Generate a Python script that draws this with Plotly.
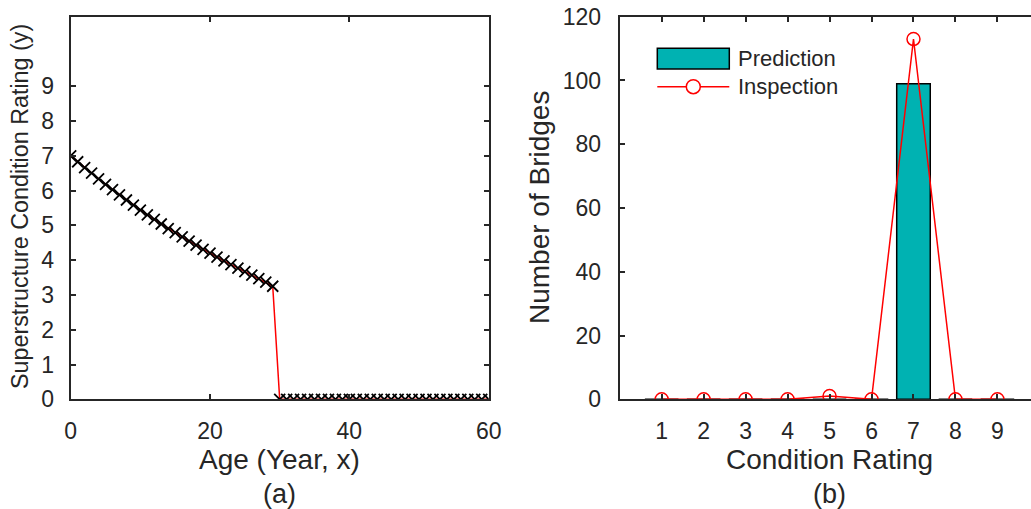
import plotly.graph_objects as go

# left panel: predicted condition rating vs age
age = list(range(0, 61))
rating = [7.00, 6.83, 6.66, 6.50, 6.34, 6.18, 6.03, 5.88, 5.73, 5.58,
          5.44, 5.30, 5.17, 5.04, 4.91, 4.79, 4.67, 4.55, 4.43, 4.31,
          4.20, 4.09, 3.98, 3.87, 3.77, 3.67, 3.57, 3.47, 3.37, 3.25] + [0] * 31

# right panel: bridge counts per condition rating
cond = [1, 2, 3, 4, 5, 6, 7, 8, 9]
prediction = [0, 0, 0, 0, 0, 0, 99, 0, 0]
inspection = [0, 0, 0, 0, 1, 0, 113, 0, 0]

W, H = 1031, 509
TXT = "#262626"
TEAL = "#00B2B2"
FONT = "Liberation Sans, Arial, sans-serif"


def px(x):
    return x / W


def py(y):
    return 1 - y / H


fig = go.Figure()

fig.add_trace(go.Scatter(x=age, y=rating, mode="lines",
                         line=dict(color="red", width=1.5),
                         showlegend=False, xaxis="x", yaxis="y"))
fig.add_trace(go.Scatter(x=age, y=rating, mode="markers",
                         marker=dict(symbol="x-thin", size=11,
                                     line=dict(color="black", width=1.8)),
                         showlegend=False, xaxis="x", yaxis="y"))

fig.add_trace(go.Bar(x=cond, y=prediction, width=0.8,
                     marker=dict(color=TEAL, line=dict(color="black", width=1.5)),
                     showlegend=False, xaxis="x2", yaxis="y2"))
fig.add_trace(go.Scatter(x=cond, y=inspection, mode="lines+markers",
                         line=dict(color="red", width=1.5),
                         marker=dict(symbol="circle-open", size=13,
                                     line=dict(color="red", width=1.5)),
                         showlegend=False, xaxis="x2", yaxis="y2"))

ax = dict(showline=True, linecolor=TXT, linewidth=2, ticks="inside",
          ticklen=5, tickwidth=1.5, tickcolor=TXT, showgrid=False,
          zeroline=False, automargin=False,
          tickfont=dict(size=23, color=TXT, family=FONT))

fig.update_layout(
    width=W, height=H,
    margin=dict(l=0, r=0, t=0, b=0, autoexpand=False),
    plot_bgcolor="white", paper_bgcolor="white",
    font=dict(family=FONT, color=TXT),
    xaxis=dict(ax, domain=[px(70.7), px(488.7)], range=[0, 60],
               tickvals=[0, 20, 40, 60], mirror="allticks",
               ticklabelstandoff=10, anchor="y"),
    yaxis=dict(ax, domain=[py(399.3), py(16.7)], range=[0, 11],
               tickvals=list(range(10)), mirror="allticks",
               ticklabelstandoff=10, anchor="x"),
    xaxis2=dict(ax, domain=[px(619.7), 1.0], range=[0, 9.8],
                tickvals=cond, mirror="allticks",
                ticklabelstandoff=10, anchor="y2"),
    yaxis2=dict(ax, domain=[py(399.3), py(16.7)], range=[0, 120],
                tickvals=[0, 20, 40, 60, 80, 100, 120], mirror=False,
                ticklabelstandoff=12, anchor="x2"),
)

# axis titles and panel labels
notes = [
    ("Superstructure Condition Rating (y)", 20, 207, 23.3, -90),
    ("Age (Year, x)", 279.7, 459, 28, 0),
    ("(a)", 279.7, 494, 27, 0),
    ("Number of Bridges", 539, 208, 28, -90),
    ("Condition Rating", 829, 459, 28, 0),
    ("(b)", 829, 494, 27, 0),
]
for text, x, y, size, ang in notes:
    fig.add_annotation(text=text, x=px(x), y=py(y), xref="paper", yref="paper",
                       showarrow=False, textangle=ang,
                       xanchor="center", yanchor="middle",
                       font=dict(size=size, color=TXT, family=FONT))

# hand-drawn legend in the right panel
fig.add_shape(type="rect", xref="paper", yref="paper",
              x0=px(657.3), x1=px(729.3), y0=py(69), y1=py(48.3),
              fillcolor=TEAL, line=dict(color="black", width=1.5))
fig.add_shape(type="line", xref="paper", yref="paper",
              x0=px(657.3), x1=px(729.3), y0=py(86.7), y1=py(86.7),
              line=dict(color="red", width=1.5))
fig.add_shape(type="circle", xref="paper", yref="paper",
              x0=px(693.3 - 7), x1=px(693.3 + 7), y0=py(86.7 + 7), y1=py(86.7 - 7),
              fillcolor="white", line=dict(color="red", width=1.5))
for text, y in [("Prediction", 58.3), ("Inspection", 86.7)]:
    fig.add_annotation(text=text, x=px(736), y=py(y), xref="paper", yref="paper",
                       showarrow=False, xanchor="left", yanchor="middle",
                       font=dict(size=22, color=TXT, family=FONT))

# the page body has an 8px default margin; drop it so the figure fills the window
fig.write_html("out.html", config={"displayModeBar": False},
               post_script="document.body.style.margin='0';")
